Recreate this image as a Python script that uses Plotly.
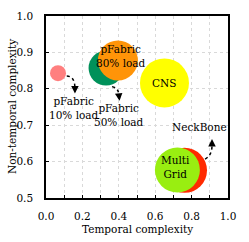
import plotly.graph_objects as go

names = ["pFabric 10% load", "pFabric 50% load", "pFabric 80% load", "CNS", "NeckBone", "Multi Grid"]
temporal = [0.066, 0.33, 0.395, 0.651, 0.761, 0.722]
non_temporal = [0.843, 0.857, 0.878, 0.816, 0.576, 0.577]
sizes = [16, 35, 40, 49, 45, 45]
colors = ["#ff7f7f", "#00915a", "#ff9408", "#ffff00", "#ff2a00", "#99ee11"]

x_ticks = [0.0, 0.2, 0.4, 0.6, 0.8, 1.0]
y_ticks = [0.5, 0.6, 0.7, 0.8, 0.9, 1.0]

FONT = "DejaVu Serif"
FS = 10.5

fig = go.Figure()
fig.add_trace(go.Scatter(
    x=temporal, y=non_temporal, mode="markers",
    marker=dict(size=sizes, color=colors, opacity=1, line=dict(width=0)),
    hoverinfo="text", text=names, showlegend=False,
))

# curved dotted arrows
paths = [
    "M 0.114 0.835 Q 0.159 0.835 0.159 0.80",
    "M 0.363 0.806 Q 0.401 0.802 0.401 0.78",
    "M 0.874 0.607 Q 0.912 0.618 0.912 0.643",
]
for p in paths:
    fig.add_shape(type="path", path=p, xref="x", yref="y",
                  line=dict(color="black", width=1.5, dash="dot"))

heads = [((0.159, 0.787), (0.159, 0.80)), ((0.404, 0.767), (0.401, 0.78)), ((0.912, 0.662), (0.912, 0.645))]
for (tx, ty), (ax, ay) in heads:
    fig.add_annotation(x=tx, y=ty, ax=ax, ay=ay, xref="x", yref="y", axref="x", ayref="y",
                       text="", showarrow=True, arrowhead=2, arrowsize=1, arrowwidth=1.5,
                       arrowcolor="black")

labels = [
    ("pFabric<br>10% load", 0.154, 0.747),
    ("pFabric<br>50% load", 0.401, 0.728),
    ("pFabric<br>80% load", 0.41, 0.891),
    ("CNS", 0.651, 0.816),
    ("Multi<br>Grid", 0.709, 0.584),
    ("NeckBone", 0.846, 0.694),
]
for t, x, y in labels:
    fig.add_annotation(x=x, y=y, xref="x", yref="y", text=t, showarrow=False,
                       font=dict(family=FONT, size=FS, color="black"), align="center")

# axis titles
fig.add_annotation(x=0.5, y=0, xref="paper", yref="paper", yanchor="middle", yshift=-31,
                   text="Temporal complexity", showarrow=False,
                   font=dict(family=FONT, size=FS, color="black"))
fig.add_annotation(x=0, y=0.5, xref="paper", yref="paper", xanchor="center", xshift=-34,
                   text="Non-temporal complexity", textangle=-90, showarrow=False,
                   font=dict(family=FONT, size=FS, color="black"))

grid_style = dict(gridcolor="#d9d9d9", griddash="dot", gridwidth=1)
fig.update_xaxes(
    range=[0, 1], tickvals=x_ticks, ticktext=[f"{v:.1f}" for v in x_ticks],
    ticks="inside", ticklen=3, tickcolor="black", showline=True, linecolor="black",
    linewidth=1.5, mirror=True, showgrid=True, **grid_style, zeroline=False,
    minor=dict(dtick=0.1, ticks="inside", ticklen=3, tickcolor="black", showgrid=True,
               gridcolor="#d9d9d9", griddash="dot"),
    tickfont=dict(family=FONT, size=FS, color="black"), ticklabelstandoff=8,
    automargin=False,
)
fig.update_yaxes(
    range=[0.5, 1.0], tickvals=y_ticks, ticktext=[f"{v:.1f}" for v in y_ticks],
    ticks="inside", ticklen=3, tickcolor="black", showline=True, linecolor="black",
    linewidth=1.5, mirror=True, showgrid=True, **grid_style, zeroline=False,
    tickfont=dict(family=FONT, size=FS, color="black"), ticklabelstandoff=9,
    automargin=False,
)
fig.update_layout(
    width=249, height=242, margin=dict(l=46, r=21, t=16, b=44),
    plot_bgcolor="white", paper_bgcolor="white",
    font=dict(family=FONT, size=FS, color="black"),
)
fig.write_html("out.html", config={"displayModeBar": False},
               post_script="document.body.style.margin='0';document.body.style.overflow='hidden';")
